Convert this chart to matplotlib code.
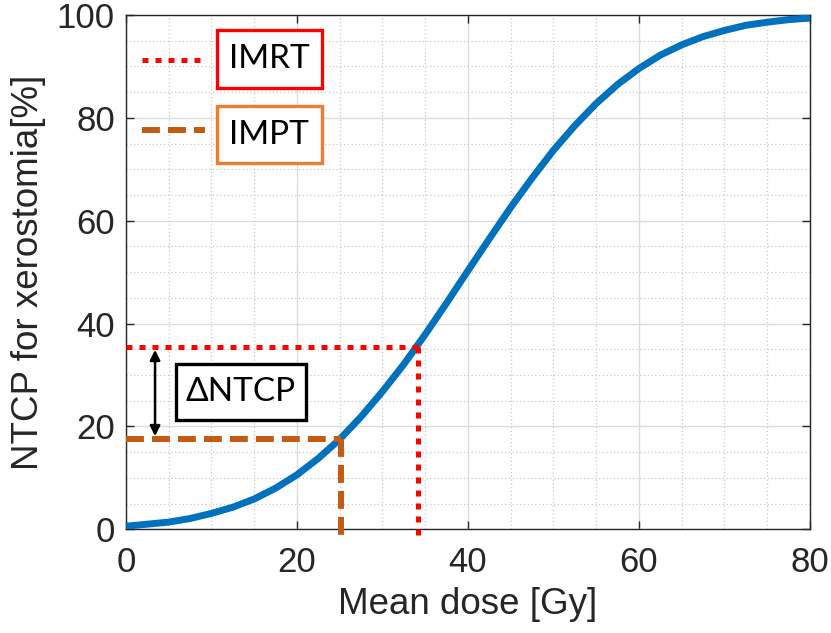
import numpy as np
import matplotlib.pyplot as plt
from matplotlib.patches import Rectangle

# NTCP curve for xerostomia vs. mean dose
dose = [0, 2.5, 5, 7.5, 10, 12.5, 15, 17.5, 20, 22.5, 25, 27.5, 30, 32.5, 35, 37.5, 40,
        42.5, 45, 47.5, 50, 52.5, 55, 57.5, 60, 62.5, 65, 67.5, 70, 72.5, 75, 77.5, 80]
ntcp = [0.6, 1.0, 1.4, 2.1, 3.1, 4.3, 5.9, 8.0, 10.6, 13.8, 17.5, 21.9, 26.8, 32.1, 37.9, 44.0, 50.3,
        56.5, 62.6, 68.3, 73.7, 78.5, 82.8, 86.5, 89.6, 92.2, 94.2, 95.8, 97.0, 98.0, 98.6, 99.1, 99.4]

# mean dose / NTCP of the two plans
imrt_dose, imrt_ntcp = 34.1, 35.5
impt_dose, impt_ntcp = 25.1, 17.5

blue = '#0072BD'
red = '#FF0000'
brown = '#C55A11'
orange = '#ED7D31'
axcol = '#262626'

plt.rcParams['font.family'] = ['Liberation Sans', 'DejaVu Sans']

fig = plt.figure(figsize=(8.31, 6.33), dpi=100)
ax = fig.add_axes([0.1516, 0.1638, 0.8231, 0.8125])

ax.plot(dose, ntcp, color=blue, lw=5, solid_capstyle='butt', solid_joinstyle='round', zorder=3)

dotted = (0, (1.2, 1.4))
dashed = (0, (3.0, 1.35))

# IMRT guide lines
ax.plot([0, imrt_dose], [imrt_ntcp, imrt_ntcp], color=red, lw=3.6, ls=dotted, clip_on=False, zorder=4)
ax.plot([imrt_dose, imrt_dose], [imrt_ntcp, -1.6], color=red, lw=3.6, ls=dotted, clip_on=False, zorder=4)
# IMPT guide lines
ax.plot([0, impt_dose], [impt_ntcp, impt_ntcp], color=brown, lw=4.3, ls=dashed, clip_on=False, zorder=4)
ax.plot([impt_dose, impt_dose], [impt_ntcp, -1.6], color=brown, lw=4.3, ls=dashed, clip_on=False, zorder=4)

# delta NTCP arrow and label
ax.annotate('', xy=(3.4, impt_ntcp + 0.6), xytext=(3.4, imrt_ntcp - 0.6),
            arrowprops=dict(arrowstyle='<|-|>', color='black', lw=1.8, mutation_scale=15,
                            shrinkA=0, shrinkB=0), zorder=5)
ax.add_patch(Rectangle((5.8, 21.3), 15.2, 10.9, fill=True, facecolor='white',
                       edgecolor='black', lw=2.4, zorder=5))
ax.text(13.4, 26.75, '\u0394NTCP', family=['Lato', 'DejaVu Sans'], fontsize=24,
        ha='center', va='center', zorder=6)

# legend entries
ax.plot([1.9, 8.8], [91.2, 91.2], color=red, lw=3.6, ls=dotted, zorder=5)
ax.plot([1.9, 9.3], [77.6, 77.6], color=brown, lw=4.3, ls=dashed, zorder=5)
ax.add_patch(Rectangle((10.6, 85.8), 12.3, 11.2, facecolor='white', edgecolor=red, lw=2.4, zorder=5))
ax.add_patch(Rectangle((10.6, 71.2), 12.3, 11.1, facecolor='white', edgecolor=orange, lw=2.4, zorder=5))
ax.text(16.75, 91.4, 'IMRT', family=['Lato', 'DejaVu Sans'], fontsize=24,
        ha='center', va='center', zorder=6)
ax.text(16.75, 76.75, 'IMPT', family=['Lato', 'DejaVu Sans'], fontsize=24,
        ha='center', va='center', zorder=6)

ax.set_xlim(0, 80)
ax.set_ylim(0, 100)
ax.set_xticks([0, 20, 40, 60, 80])
ax.set_yticks([0, 20, 40, 60, 80, 100])
ax.set_xticks(np.arange(0, 81, 5), minor=True)
ax.set_yticks(np.arange(0, 101, 5), minor=True)

ax.grid(which='major', color='#dcdcdc', lw=1.0, ls='-')
ax.grid(which='minor', color='#c8c8c8', lw=0.9, ls=(0, (1, 2)))
ax.set_axisbelow(True)

ax.tick_params(which='major', direction='in', length=6, width=1, color=axcol,
               top=True, right=True, labelsize=25, labelcolor=axcol)
ax.tick_params(axis='x', which='major', pad=12)
ax.tick_params(axis='y', which='major', pad=8)
ax.tick_params(which='minor', length=0, top=True, right=True)
for s in ax.spines.values():
    s.set_color(axcol)
    s.set_linewidth(1.0)

ax.set_xlabel('Mean dose [Gy]', fontsize=26.5, color=axcol, labelpad=6)
ax.set_ylabel('NTCP for xerostomia[%]', fontsize=26.5, color=axcol, labelpad=8)

fig.savefig('out.png', dpi=100)
